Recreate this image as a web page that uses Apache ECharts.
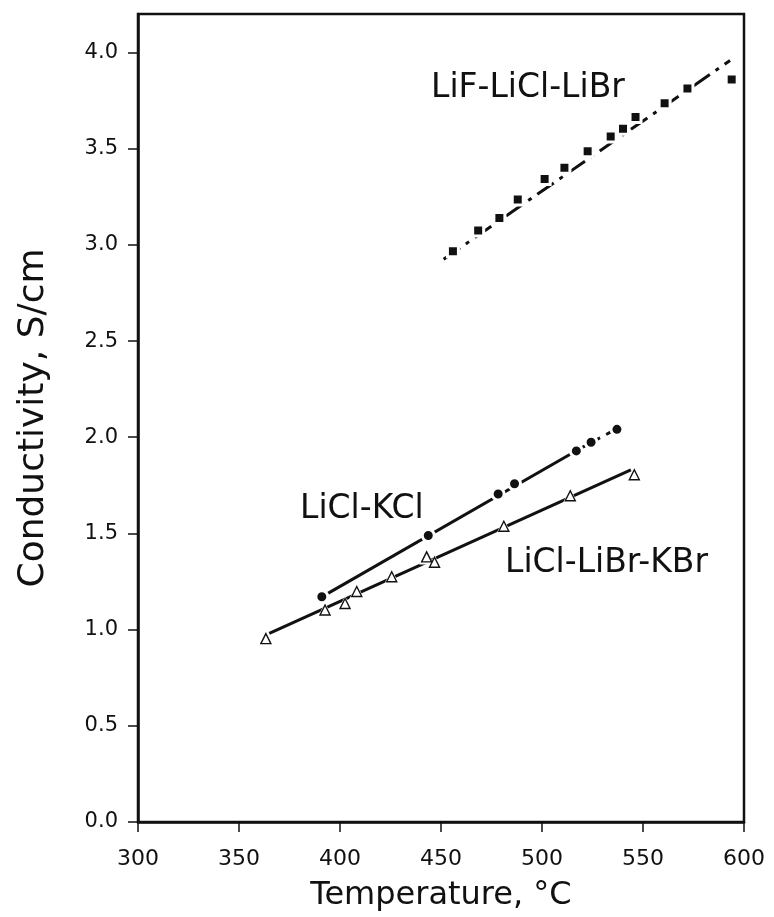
<!DOCTYPE html>
<html>
<head>
<meta charset="utf-8">
<script src="https://cdn.jsdelivr.net/npm/echarts@6/dist/echarts.min.js"></script>
<style>
html,body{margin:0;padding:0;background:#fff;}
#chart{width:774px;height:917px;}
</style>
</head>
<body>
<div id="chart"></div>
<script>
// ---- data ----
var xTicks = [300, 350, 400, 450, 500, 550, 600];
var yTicks = [0, 0.5, 1.0, 1.5, 2.0, 2.5, 3.0, 3.5, 4.0];

var lifT = [455.9, 468.4, 478.9, 488.0, 501.3, 511.1, 522.6, 534.0, 540.1, 546.3, 560.7, 572.0, 593.9];
var lifK = [2.967, 3.074, 3.140, 3.236, 3.342, 3.401, 3.487, 3.563, 3.604, 3.665, 3.736, 3.813, 3.860];

var kclT = [391.0, 443.7, 478.3, 486.4, 517.0, 524.3, 537.1];
var kclK = [1.171, 1.489, 1.705, 1.758, 1.929, 1.974, 2.041];

var brT = [363.3, 392.6, 402.5, 408.3, 425.6, 442.9, 446.8, 481.1, 514.0, 545.7];
var brK = [0.953, 1.102, 1.136, 1.198, 1.275, 1.378, 1.350, 1.537, 1.696, 1.805];

// fitted lines drawn in the figure (end points)
var lifFitT = [451.3, 593.1];
var lifFitK = [2.925, 3.958];
var kclFitT = [391.0, 517.0];
var kclFitK = [1.17, 1.93];
var kclTailT = [517.0, 538.0];
var kclTailK = [1.93, 2.05];
var brFitT = [365.0, 544.0];
var brFitK = [0.98, 1.83];

var labels = ['LiF-LiCl-LiBr', 'LiCl-KCl', 'LiCl-LiBr-KBr'];

function pairs(a, b) { return a.map(function (v, i) { return [v, b[i]]; }); }

var chart = echarts.init(document.getElementById('chart'), null, {renderer: 'canvas'});
var FONT = 'DejaVu Sans';
var INK = '#111';

var lineBase = {type: 'line', showSymbol: false, silent: true, z: 2, animation: false};

var option = {
  animation: false,
  backgroundColor: '#fff',
  grid: {left: 138, right: 30, top: 14, bottom: 94, show: true, borderColor: INK, borderWidth: 2.5, backgroundColor: 'transparent'},
  xAxis: {
    type: 'value', min: 300, max: 600, interval: 50,
    name: 'Temperature, °C', nameLocation: 'middle', nameGap: 58,
    nameTextStyle: {fontFamily: FONT, fontSize: 32, color: INK},
    axisLine: {show: true, onZero: false, lineStyle: {color: INK, width: 2.5}},
    axisTick: {show: true, inside: false, length: 10, lineStyle: {color: INK, width: 1.5}, customValues: xTicks},
    axisLabel: {fontFamily: FONT, fontSize: 22, color: INK, margin: 26, customValues: xTicks},
    splitLine: {show: false}
  },
  yAxis: {
    type: 'value', min: 0, max: 4.2, interval: 0.5,
    name: 'Conductivity, S/cm', nameLocation: 'middle', nameGap: 86,
    nameTextStyle: {fontFamily: FONT, fontSize: 36, color: INK},
    axisLine: {show: true, onZero: false, lineStyle: {color: INK, width: 2.5}},
    axisTick: {show: true, inside: false, length: 10, lineStyle: {color: INK, width: 1.5}, customValues: yTicks},
    axisLabel: {fontFamily: FONT, fontSize: 21, color: INK, margin: 20, customValues: yTicks,
      formatter: function (v) { return v.toFixed(1); }},
    splitLine: {show: false}
  },
  series: [
    Object.assign({}, lineBase, {name: 'lifFit', data: pairs(lifFitT, lifFitK),
      lineStyle: {color: INK, width: 3, type: [20, 7, 4, 7]}}),
    Object.assign({}, lineBase, {name: 'kclFit', data: pairs(kclFitT, kclFitK),
      lineStyle: {color: INK, width: 3, type: 'solid'}}),
    Object.assign({}, lineBase, {name: 'kclTail', data: pairs(kclTailT, kclTailK),
      lineStyle: {color: INK, width: 3, type: [10, 7]}}),
    Object.assign({}, lineBase, {name: 'brFit', data: pairs(brFitT, brFitK),
      lineStyle: {color: INK, width: 3, type: 'solid'}}),
    {type: 'scatter', name: labels[0], data: pairs(lifT, lifK), symbol: 'rect', symbolSize: 11, z: 5,
      itemStyle: {color: INK, borderColor: '#fff', borderWidth: 3, opacity: 1}},
    {type: 'scatter', name: labels[1], data: pairs(kclT, kclK), symbol: 'circle', symbolSize: 12, z: 5,
      itemStyle: {color: INK, borderColor: '#fff', borderWidth: 3, opacity: 1}},
    {type: 'scatter', name: 'brHalo', data: pairs(brT, brK), symbol: 'triangle', symbolSize: 15, z: 4,
      itemStyle: {color: '#fff', opacity: 1}, silent: true},
    {type: 'scatter', name: labels[2], data: pairs(brT, brK), symbol: 'triangle', symbolSize: 10, z: 5,
      itemStyle: {color: '#fff', borderColor: INK, borderWidth: 1.4, opacity: 1}}
  ],
  graphic: [
    {type: 'text', z: 10, style: {text: labels[0], x: 431, y: 88, fontFamily: FONT, fontSize: 33, fill: INK, verticalAlign: 'middle'}},
    {type: 'text', z: 10, style: {text: labels[1], x: 300, y: 509, fontFamily: FONT, fontSize: 33, fill: INK, verticalAlign: 'middle'}},
    {type: 'text', z: 10, style: {text: labels[2], x: 505, y: 563, fontFamily: FONT, fontSize: 33, fill: INK, verticalAlign: 'middle'}}
  ]
};
chart.setOption(option);
</script>
</body>
</html>
